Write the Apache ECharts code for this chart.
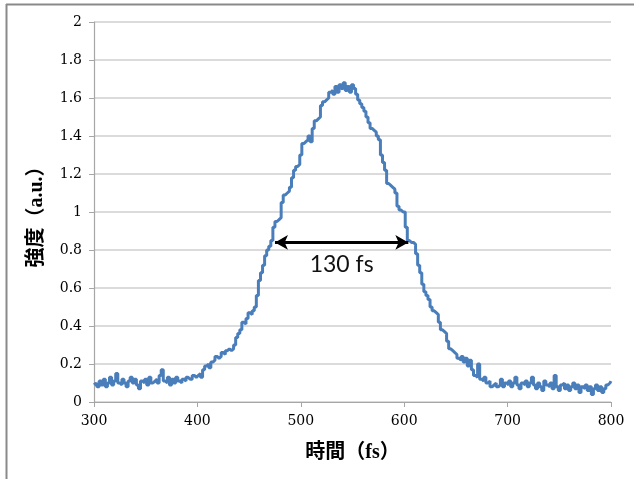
<!DOCTYPE html>
<html>
<head>
<meta charset="utf-8">
<script src="https://cdn.jsdelivr.net/npm/echarts@6/dist/echarts.min.js"></script>
<style>html,body{margin:0;padding:0;background:#fff}#c{width:634px;height:479px}</style>
</head>
<body>
<div id="c"></div>
<script>
// time axis: 300..800 fs, sampled every 2 fs
const tStart = 300, tStep = 2;
const intensity = [
0.09,0.1,0.08,0.11,0.09,0.12,0.08,0.1,0.13,0.09,
0.11,0.15,0.1,0.09,0.12,0.1,0.08,0.11,0.13,0.1,
0.12,0.09,0.07,0.11,0.1,0.12,0.09,0.13,0.1,0.11,
0.12,0.1,0.14,0.17,0.11,0.1,0.13,0.09,0.12,0.1,
0.13,0.11,0.1,0.12,0.11,0.13,0.12,0.12,0.14,0.13,
0.14,0.15,0.13,0.17,0.19,0.2,0.18,0.21,0.22,0.24,
0.23,0.24,0.26,0.25,0.27,0.28,0.27,0.28,0.3,0.34,
0.36,0.38,0.42,0.41,0.44,0.47,0.46,0.48,0.5,0.56,
0.64,0.68,0.72,0.77,0.8,0.82,0.85,0.92,0.95,0.96,
0.97,1.05,1.09,1.1,1.11,1.13,1.18,1.22,1.24,1.25,
1.3,1.36,1.37,1.38,1.4,1.37,1.44,1.48,1.49,1.5,
1.56,1.58,1.59,1.6,1.63,1.64,1.62,1.66,1.63,1.67,
1.65,1.68,1.64,1.66,1.63,1.67,1.65,1.62,1.59,1.57,
1.55,1.53,1.5,1.47,1.44,1.43,1.42,1.4,1.38,1.3,
1.26,1.22,1.15,1.14,1.13,1.12,1.1,1.03,1.01,1.0,
1.0,0.92,0.85,0.84,0.84,0.83,0.78,0.72,0.68,0.62,
0.58,0.56,0.54,0.5,0.48,0.47,0.46,0.42,0.38,0.37,
0.36,0.32,0.28,0.27,0.26,0.25,0.23,0.22,0.24,0.21,
0.23,0.19,0.22,0.17,0.14,0.13,0.2,0.12,0.11,0.13,
0.1,0.11,0.08,0.09,0.1,0.08,0.09,0.12,0.08,0.1,
0.09,0.11,0.08,0.1,0.13,0.09,0.07,0.1,0.09,0.11,
0.08,0.1,0.13,0.09,0.07,0.1,0.08,0.06,0.11,0.09,
0.08,0.1,0.07,0.14,0.08,0.06,0.09,0.1,0.07,0.09,
0.06,0.08,0.1,0.07,0.09,0.05,0.08,0.07,0.09,0.06,
0.08,0.04,0.07,0.09,0.06,0.08,0.05,0.07,0.09,0.1,
0.11
];
const times = intensity.map((v, i) => tStart + i * tStep);
// FWHM annotation
const fwhmStart = 475, fwhmEnd = 604, fwhmLevel = 0.84;
const fwhmLabel = '130 fs';
const xTitle = '時間（fs）';
const yTitle = '強度（a.u.）';

const serif = '"DejaVu Serif", "Liberation Serif", serif';
const titleFont = '"Liberation Serif", "Noto Sans CJK JP", serif';
const chart = echarts.init(document.getElementById('c'));
chart.setOption({
  animation: false,
  backgroundColor: '#fff',
  grid: { left: 94, right: 23, top: 22, bottom: 77 },
  xAxis: {
    type: 'value', min: 300, max: 800, interval: 100,
    name: xTitle, nameLocation: 'middle', nameGap: 41,
    nameTextStyle: { fontFamily: titleFont, fontWeight: 'bold', fontSize: 20, color: '#000' },
    axisLine: { show: true, lineStyle: { color: '#a6a6a6', width: 1.2 } },
    axisTick: { show: true, length: 5, lineStyle: { color: '#a6a6a6' } },
    axisLabel: { fontFamily: serif, fontSize: 14, color: '#000', margin: 12 },
    splitLine: { show: false }
  },
  yAxis: {
    type: 'value', min: 0, max: 2, interval: 0.2,
    name: yTitle, nameLocation: 'middle', nameGap: 47,
    nameTextStyle: { fontFamily: titleFont, fontWeight: 'bold', fontSize: 20, color: '#000' },
    axisLine: { show: true, lineStyle: { color: '#a6a6a6', width: 1.2 } },
    axisTick: { show: true, length: 5, lineStyle: { color: '#a6a6a6' } },
    axisLabel: { fontFamily: serif, fontSize: 14, color: '#000', margin: 12,
      formatter: v => String(Math.round(v * 10) / 10) },
    splitLine: { show: true, lineStyle: { color: '#cfcfcf', width: 1.5 } }
  },
  series: [{
    type: 'line',
    data: times.map((t, i) => [t, intensity[i]]),
    showSymbol: false,
    step: 'middle',
    lineStyle: { color: '#4a7ebb', width: 3 },
    itemStyle: { color: '#4a7ebb' },
    markLine: {
      silent: true,
      symbol: ['arrow', 'arrow'],
      symbolSize: [11, 13],
      lineStyle: { color: '#000', width: 3, type: 'solid' },
      label: { show: true, position: 'insideMiddleBottom', distance: 11,
        formatter: fwhmLabel, fontFamily: 'Lato, "Open Sans", sans-serif', fontSize: 23, color: '#111' },
      data: [[{ coord: [fwhmStart, fwhmLevel] }, { coord: [fwhmEnd, fwhmLevel] }]]
    }
  }],
  graphic: [
    { type: 'line', shape: { x1: 6, y1: 4.5, x2: 634, y2: 4.5 }, style: { stroke: '#8a8a8a', lineWidth: 2 } },
    { type: 'line', shape: { x1: 6.5, y1: 4, x2: 6.5, y2: 479 }, style: { stroke: '#8a8a8a', lineWidth: 2 } }
  ]
});
</script>
</body>
</html>
